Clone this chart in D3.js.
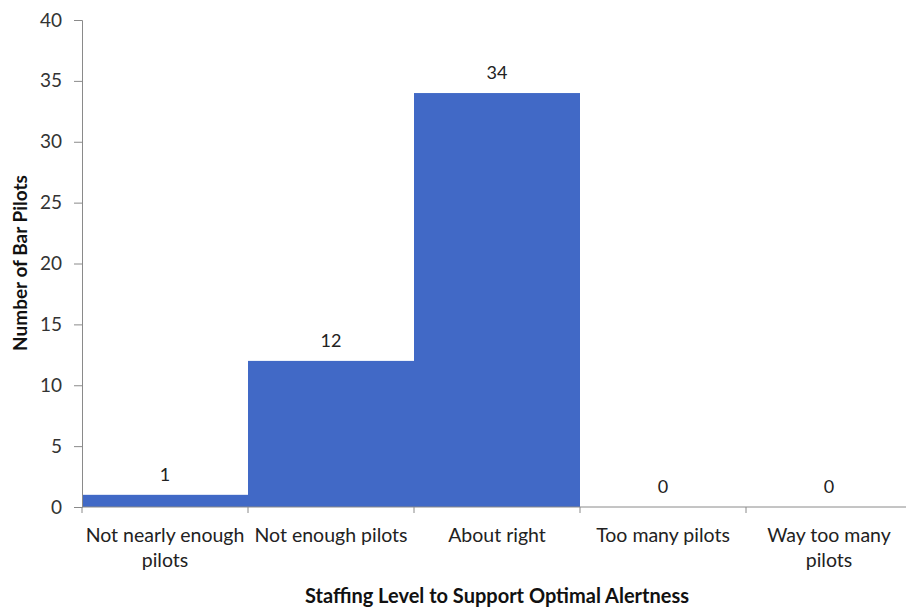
<!DOCTYPE html>
<html>
<head>
<meta charset="utf-8">
<script src="https://cdn.jsdelivr.net/npm/d3@7/dist/d3.min.js"></script>
<style>
  html, body { margin: 0; padding: 0; background: #ffffff; }
  svg { display: block; }
</style>
</head>
<body>
<svg id="chart" width="906" height="611"></svg>
<script>
const categories = ["Not nearly enough|pilots", "Not enough pilots", "About right", "Too many pilots", "Way too many|pilots"];
const values = [1, 12, 34, 0, 0];
const yTicks = [0, 5, 10, 15, 20, 25, 30, 35, 40];
const xTitle = "Staffing Level to Support Optimal Alertness";
const yTitle = "Number of Bar Pilots";

(function () {
const svg = d3.select("#chart");
const mLeft = 82, mRight = 912, mTop = 20, mBottom = 507;
const labelFont = "Lato, 'Open Sans', sans-serif";

const x = d3.scaleBand().domain(categories).range([mLeft, mRight]).padding(0);
const y = d3.scaleLinear().domain([0, 40]).range([mBottom, mTop]);

// bars
svg.append("g").selectAll("rect").data(values).join("rect")
  .attr("x", (d, i) => x(categories[i]))
  .attr("width", x.bandwidth())
  .attr("y", d => y(d))
  .attr("height", d => y(0) - y(d))
  .attr("fill", "#4169c6");

// value labels
svg.append("g").selectAll("text").data(values).join("text")
  .attr("x", (d, i) => x(categories[i]) + x.bandwidth() / 2)
  .attr("y", d => y(d) - 14)
  .attr("text-anchor", "middle")
  .attr("font-family", labelFont)
  .attr("font-size", 18)
  .attr("fill", "#222")
  .text(d => d);

// y axis
const yAxis = svg.append("g").attr("transform", `translate(${mLeft},0)`)
  .call(d3.axisLeft(y).tickValues(yTicks).tickSize(8).tickPadding(12));
yAxis.select(".domain").attr("stroke", "#8a8a8a");
yAxis.selectAll(".tick line").attr("stroke", "#8a8a8a");
yAxis.selectAll(".tick text")
  .attr("font-family", labelFont).attr("font-size", 19).attr("fill", "#333");

// x axis
const xAxis = svg.append("g").attr("transform", `translate(0,${mBottom})`)
  .call(d3.axisBottom(x).tickSize(0).tickFormat(""));
xAxis.select(".domain").attr("stroke", "#8a8a8a").attr("d", `M${mLeft},0H${mRight}`);
// boundary ticks
svg.append("g").selectAll("line").data(categories).join("line")
  .attr("x1", d => x(d)).attr("x2", d => x(d))
  .attr("y1", mBottom).attr("y2", mBottom + 6)
  .attr("stroke", "#8a8a8a");

// category labels
const catG = svg.append("g");
categories.forEach(c => {
  const lines = c.split("|");
  const t = catG.append("text")
    .attr("x", x(c) + x.bandwidth() / 2)
    .attr("y", mBottom + 35)
    .attr("text-anchor", "middle")
    .attr("font-family", labelFont)
    .attr("font-size", 19.5)
    .attr("fill", "#222");
  lines.forEach((l, i) => {
    t.append("tspan").attr("x", x(c) + x.bandwidth() / 2)
      .attr("dy", i === 0 ? 0 : 25).text(l);
  });
});

// titles
svg.append("text")
  .attr("x", 497).attr("y", 603)
  .attr("text-anchor", "middle")
  .attr("font-family", labelFont)
  .attr("font-weight", "bold")
  .attr("font-size", 20)
  .attr("fill", "#111")
  .text(xTitle);

svg.append("text")
  .attr("transform", "translate(27,263) rotate(-90)")
  .attr("text-anchor", "middle")
  .attr("font-family", labelFont)
  .attr("font-weight", "bold")
  .attr("font-size", 19)
  .attr("fill", "#111")
  .text(yTitle);
})();
</script>
</body>
</html>
